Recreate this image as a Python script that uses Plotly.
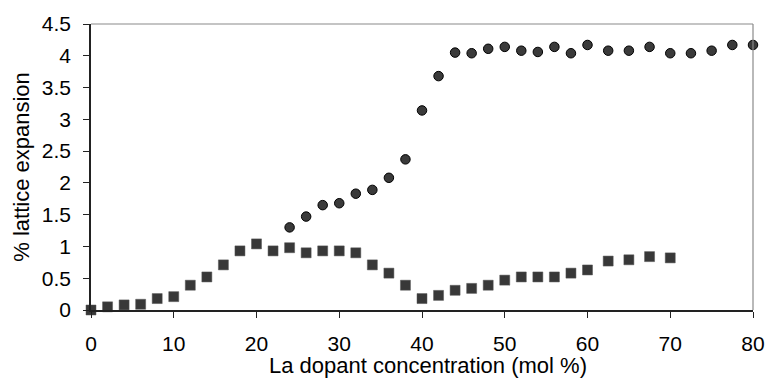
import plotly.graph_objects as go

circle_x = [24, 26, 28, 30, 32, 34, 36, 38, 40, 42, 44, 46, 48, 50, 52, 54, 56, 58, 60,
            62.5, 65, 67.5, 70, 72.5, 75, 77.5, 80]
circle_y = [1.30, 1.47, 1.65, 1.68, 1.83, 1.89, 2.08, 2.37, 3.14, 3.68, 4.05, 4.04, 4.11,
            4.14, 4.08, 4.06, 4.14, 4.04, 4.17, 4.08, 4.08, 4.14, 4.04, 4.04, 4.08, 4.17, 4.17]

square_x = [0, 2, 4, 6, 8, 10, 12, 14, 16, 18, 20, 22, 24, 26, 28, 30, 32, 34, 36, 38, 40,
            42, 44, 46, 48, 50, 52, 54, 56, 58, 60, 62.5, 65, 67.5, 70]
square_y = [0.0, 0.05, 0.08, 0.09, 0.18, 0.21, 0.39, 0.52, 0.71, 0.93, 1.04, 0.93, 0.98,
            0.90, 0.93, 0.93, 0.90, 0.71, 0.58, 0.39, 0.18, 0.23, 0.31, 0.34, 0.39, 0.47,
            0.52, 0.52, 0.52, 0.58, 0.63, 0.77, 0.79, 0.84, 0.82]

x_ticks = [0, 10, 20, 30, 40, 50, 60, 70, 80]
y_ticks = [0, 0.5, 1, 1.5, 2, 2.5, 3, 3.5, 4, 4.5]
y_tick_text = ["0", "0.5", "1", "1.5", "2", "2.5", "3", "3.5", "4", "4.5"]

x_title = "La dopant concentration (mol %)"
y_title = "% lattice expansion"

FONT = "Liberation Sans, Arial, sans-serif"

fig = go.Figure()
fig.add_trace(go.Scatter(
    x=square_x, y=square_y, mode="markers",
    marker=dict(symbol="square", size=10, color="#383838",
                line=dict(color="#555555", width=0.5)),
    cliponaxis=False, showlegend=False))
fig.add_trace(go.Scatter(
    x=circle_x, y=circle_y, mode="markers",
    marker=dict(symbol="circle", size=9.5, color="#3a3a3a",
                line=dict(color="#000000", width=1)),
    cliponaxis=False, showlegend=False))

fig.update_layout(
    width=777, height=387,
    margin=dict(l=91, r=16, t=24, b=77),
    paper_bgcolor="white", plot_bgcolor="white",
    font=dict(family=FONT, size=21, color="black"),
    xaxis=dict(range=[0, 80], tickvals=x_ticks, showgrid=False, zeroline=False,
               showline=True, linecolor="#222222", linewidth=1.5,
               ticks="outside", ticklen=6, tickcolor="#222222", tickwidth=1,
               tickfont=dict(size=21), ticklabelstandoff=8),
    yaxis=dict(range=[0, 4.5], tickvals=y_ticks, ticktext=y_tick_text, showgrid=False,
               zeroline=False, showline=True, linecolor="#222222", linewidth=1.5,
               ticks="outside", ticklen=6, tickcolor="#222222", tickwidth=1,
               tickfont=dict(size=21), ticklabelstandoff=8,
               title=dict(text=y_title, font=dict(size=22), standoff=6)),
    annotations=[
        dict(text=x_title, xref="paper", yref="paper", x=0.5097, y=-0.145,
             xanchor="center", yanchor="top", showarrow=False,
             font=dict(size=22, family=FONT, color="black")),
    ],
    shapes=[
        dict(type="line", xref="paper", yref="paper", x0=0, x1=1, y0=1, y1=1,
             line=dict(color="#8a8a8a", width=1.2)),
        dict(type="line", xref="paper", yref="paper", x0=1, x1=1, y0=0, y1=1,
             line=dict(color="#8a8a8a", width=1.2)),
    ],
)

fig.write_html("out.html")
